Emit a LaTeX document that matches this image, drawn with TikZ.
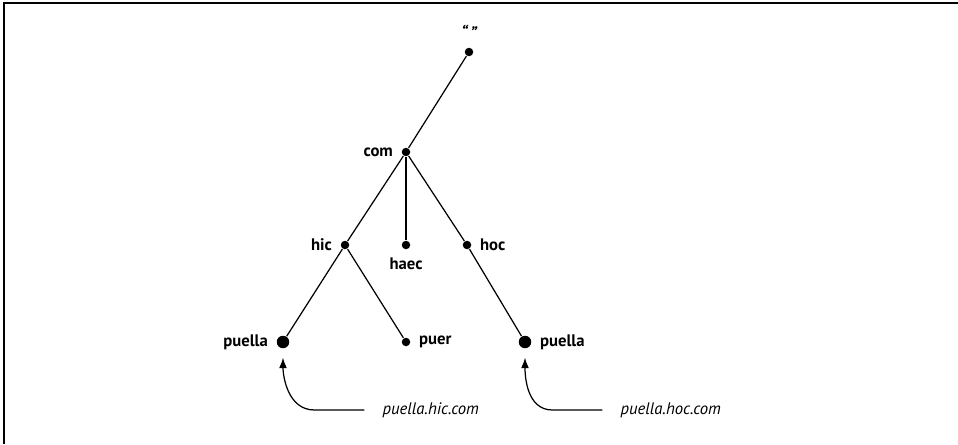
\documentclass[tikz,border=0pt]{standalone}
\usepackage{fontspec}
\setmainfont{PT Sans}
\usetikzlibrary{arrows.meta}

\begin{document}
\begin{tikzpicture}[x=0.02cm,y=0.02cm,line width=0.7pt,
    font=\fontsize{9.5}{11}\selectfont,
    dot node/.style={circle,fill,inner sep=0pt,minimum size=0.17cm},
    big node/.style={circle,fill,inner sep=0pt,minimum size=0.25cm},
    name label/.style={font=\fontsize{9.5}{11}\selectfont\bfseries},
    url node/.style={anchor=west,inner sep=0pt,font=\fontsize{9.5}{11}\selectfont\itshape},
    pointer/.style={-{Latex[length=6pt,width=4.5pt]},shorten >=5pt},
    label distance=1pt]

    \useasboundingbox (0,0) rectangle (958,444);
    \draw[line width=0.8pt] (4,0) |- (958,441);

    \node[dot node, label={[name label,font=\fontsize{9.5}{11}\selectfont\bfseries\itshape]above:“\,”}] (root) at (469,392) {};
    \node[dot node, label={[name label]left:com}] (com) at (406,292) {};
    \node[dot node, label={[name label]left:hic}] (hic) at (345,199) {};
    \node[dot node, label={[name label]below:haec}] (haec) at (406,199) {};
    \node[dot node, label={[name label]right:hoc}] (hoc) at (467,199) {};
    \node[big node, label={[name label]left:puella}] (p1) at (283,102) {};
    \node[dot node, label={[name label]right:puer}] (puer) at (406,102) {};
    \node[big node, label={[name label]right:puella}] (p2) at (525,102) {};

    \draw (root) -- (com);
    \draw (com) -- (hic);
    \draw (com) -- (haec);
    \draw (com) -- (hoc);
    \draw (hic) -- (p1);
    \draw (hic) -- (puer);
    \draw (hoc) -- (p2);

    \node[url node] (hicurl) at (382,34) {puella.hic.com};
    \node[url node] (hocurl) at (620,34) {puella.hoc.com};

    \draw[pointer] ([xshift=-10]hicurl.west) -- ++(-50,0) to[out=180,in=-90] (p1.south);
    \draw[pointer] ([xshift=-10]hocurl.west) -- ++(-50,0) to[out=180,in=-90] (p2.south);
\end{tikzpicture}
\end{document}
